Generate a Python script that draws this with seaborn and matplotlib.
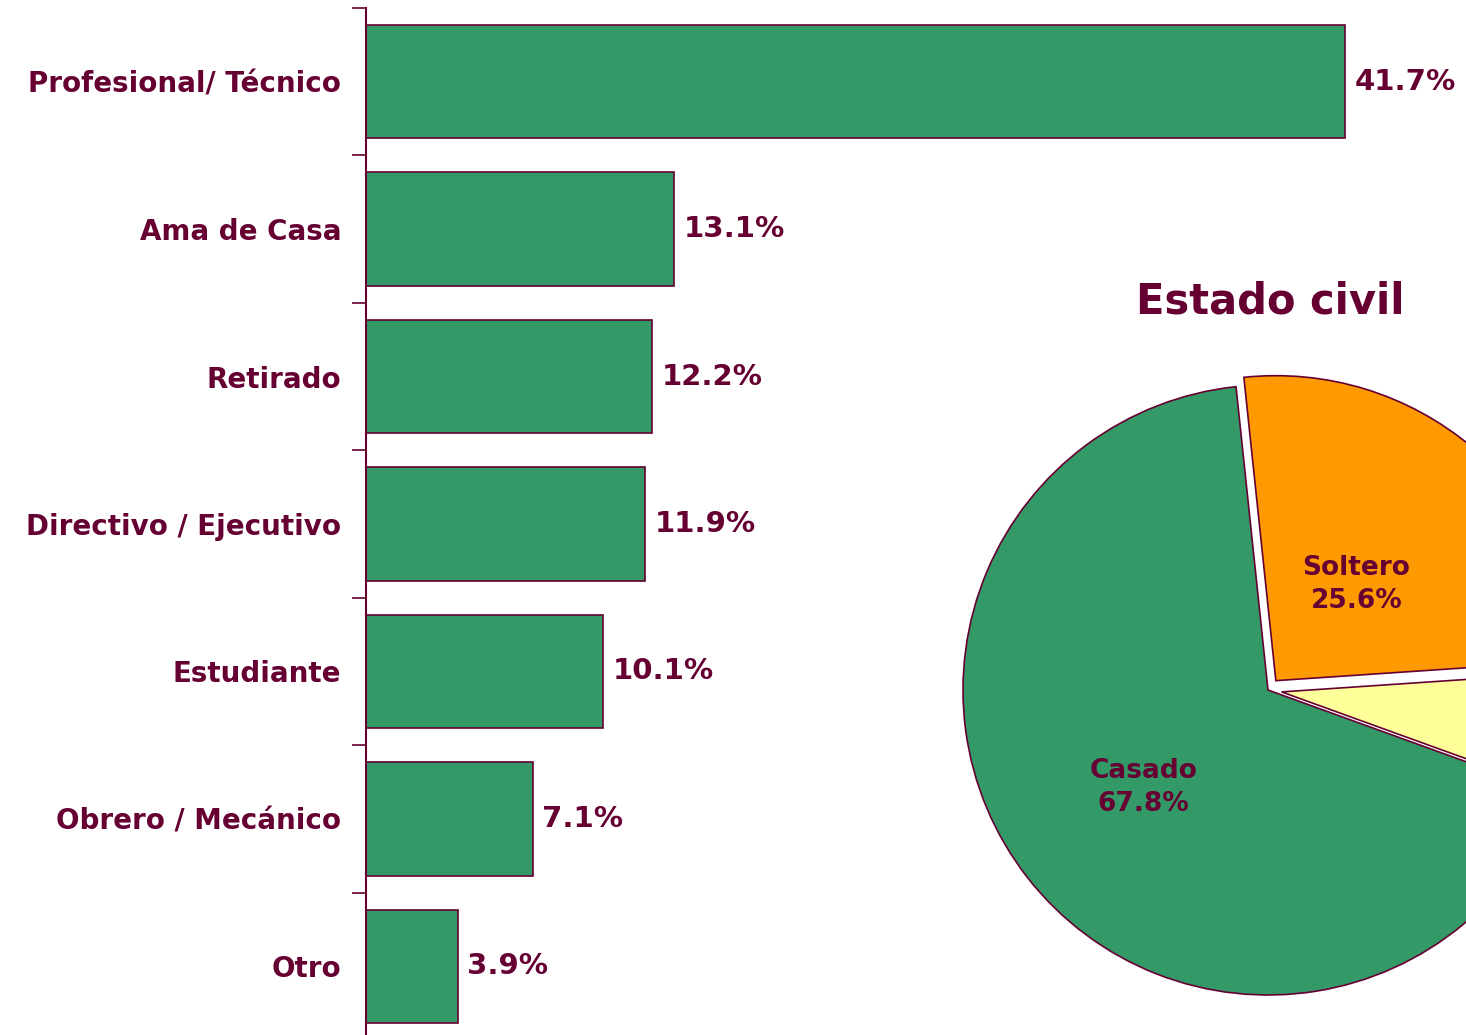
import numpy as np
import matplotlib
matplotlib.use("Agg")
import matplotlib.pyplot as plt
from matplotlib.ticker import FixedLocator
import seaborn as sns

# Ocupacion (bar chart)
ocupaciones = ['Profesional/ Técnico', 'Ama de Casa', 'Retirado',
               'Directivo / Ejecutivo', 'Estudiante', 'Obrero / Mecánico', 'Otro']
porcentajes = [41.7, 13.1, 12.2, 11.9, 10.1, 7.1, 3.9]

# Estado civil (pie)
estado_labels = ['Casado', 'Soltero', '']
estado_values = [67.8, 25.6, 6.6]

GREEN = '#339966'
ORANGE = '#FF9900'
YELLOW = '#FFFF99'
PURPLE = '#660033'

sns.set_style('white')
plt.rcParams['font.family'] = ['DejaVu Sans']

fig = plt.figure(figsize=(14.66, 10.35), dpi=100)

# bar axes, placed in pixel terms of the 1466x1035 canvas
W, H = 1466.0, 1035.0
ax = fig.add_axes([366 / W, (H - 1040) / H, (W - 366) / W, 1032 / H])
sns.barplot(x=porcentajes, y=ocupaciones, orient='h', color=GREEN,
            saturation=1, edgecolor=PURPLE, linewidth=1.2, width=0.77, ax=ax)
ax.set_xlim(0, (W - 366) / (979 / 41.7))
ax.set_ylim(len(ocupaciones) - 0.5, -0.5)

for s in ['top', 'right', 'bottom']:
    ax.spines[s].set_visible(False)
ax.spines['left'].set_color(PURPLE)
ax.spines['left'].set_linewidth(1.5)
ax.set_xticks([])
ax.set_xlabel('')
ax.set_ylabel('')

ax.tick_params(axis='y', which='major', length=0, pad=18)
ax.yaxis.set_minor_locator(FixedLocator(np.arange(-0.5, len(ocupaciones), 1.0)))
ax.tick_params(axis='y', which='minor', length=10, width=1.2, color=PURPLE, left=True)
for lab in ax.get_yticklabels():
    lab.set_fontsize(20)
    lab.set_fontweight('bold')
    lab.set_color(PURPLE)

ax.bar_label(ax.containers[0], labels=[f'{v}%' for v in porcentajes], padding=7,
             fontsize=21, fontweight='bold', color=PURPLE)

# pie axes
cx, cy, r = 1268, 690, 305
pax = fig.add_axes([(cx - r) / W, (H - cy - r) / H, 2 * r / W, 2 * r / H])
wedges, _ = pax.pie(estado_values, colors=[GREEN, ORANGE, YELLOW], startangle=-19.9,
                    counterclock=False, explode=[0, 0.04, 0.045],
                    wedgeprops=dict(edgecolor=PURPLE, linewidth=1.2))
pax.set_xlim(-1, 1)
pax.set_ylim(-1, 1)
pax.set_aspect('equal')
pax.axis('off')
for w in wedges:
    w.set_clip_on(False)

label_r = [0.52, 0.41, 0.5]
for w, lab, v, lr in zip(wedges, estado_labels, estado_values, label_r):
    if not lab:
        continue
    mid = np.deg2rad((w.theta1 + w.theta2) / 2)
    x = w.center[0] + lr * np.cos(mid)
    y = w.center[1] + lr * np.sin(mid)
    pax.text(x, y, f'{lab}\n{v}%', ha='center', va='center', fontsize=19,
             fontweight='bold', color=PURPLE, linespacing=1.35)

fig.text(1270 / W, (H - 302) / H, 'Estado civil', ha='center', va='center',
         fontsize=30, fontweight='bold', color=PURPLE)

fig.savefig('out.png', dpi=100)
